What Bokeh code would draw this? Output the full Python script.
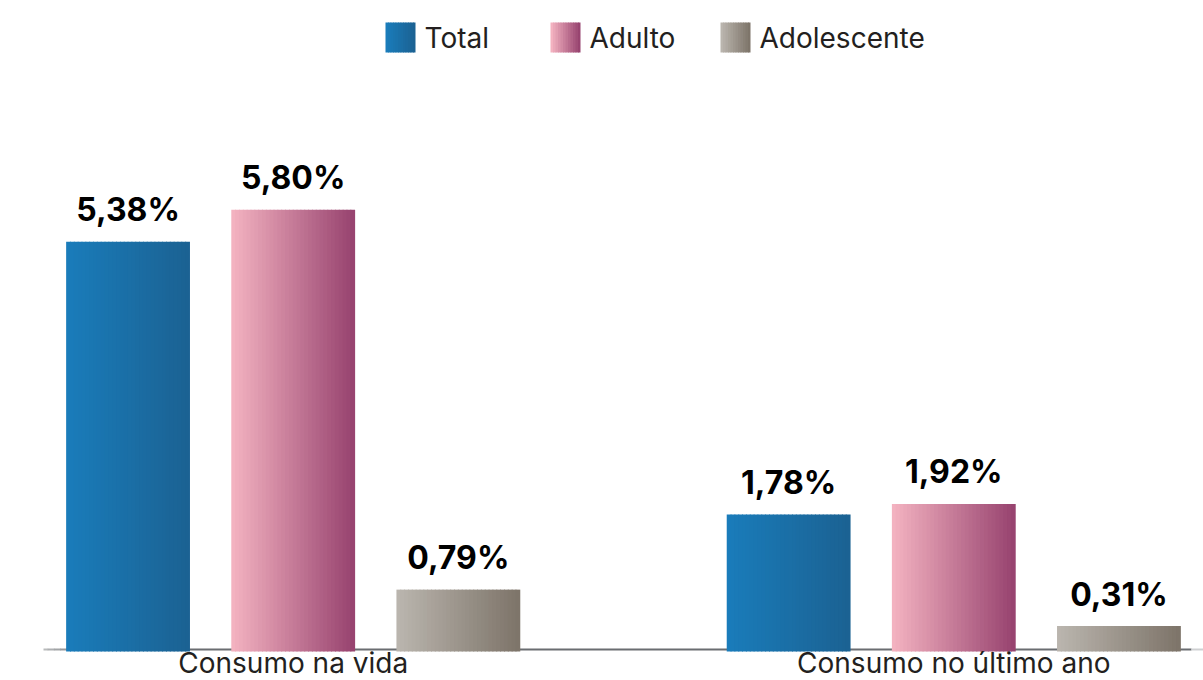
from bokeh.plotting import figure
from bokeh.models import FactorRange, Range1d, BoxAnnotation, Label, ColumnDataSource
from bokeh.core.properties import value
from bokeh.embed import file_html
from bokeh.resources import INLINE

# ---- data ----
categories = ["Consumo na vida", "Consumo no último ano"]
series = ["Total", "Adulto", "Adolescente"]
total = [5.38, 1.78]
adulto = [5.80, 1.92]
adolescente = [0.79, 0.31]

# ---- styles ----
gradients = {
    "Total": ("#1a7cba", "#1b6293"),
    "Adulto": ("#f3b2c0", "#984470"),
    "Adolescente": ("#bab5ae", "#7e756a"),
}
FONT = "Inter"
TEXT_COLOR = "#231f20"


def mix(c1, c2, t):
    a = [int(c1[i:i + 2], 16) for i in (1, 3, 5)]
    b = [int(c2[i:i + 2], 16) for i in (1, 3, 5)]
    return "#%02x%02x%02x" % tuple(round(a[k] + (b[k] - a[k]) * t) for k in range(3))


values = {"Total": total, "Adulto": adulto, "Adolescente": adolescente}
factors = [(c, s) for c in categories for s in series]

W, H = 1203, 680
MBL = 43
PX_PER_UNIT = 75.8
ZERO = 649  # canvas pixel row of the zero line
Y_BOTTOM = -(H - ZERO) / PX_PER_UNIT
Y_TOP = ZERO / PX_PER_UNIT

p = figure(
    width=W, height=H,
    x_range=FactorRange(*factors, group_padding=1.0, range_padding=0.012,
                        range_padding_units="absolute"),
    y_range=Range1d(Y_BOTTOM, Y_TOP),
    output_backend="svg", toolbar_location=None,
    x_axis_location=None, y_axis_location=None,
    min_border_left=MBL, min_border_right=0, min_border_top=0, min_border_bottom=0,
)
p.grid.visible = False
p.outline_line_color = None
p.background_fill_color = "white"
p.border_fill_color = "white"


def sx(a):
    return a - MBL


def sy(a):
    return H - a


def box(l, r, t, b, color):
    p.add_layout(BoxAnnotation(
        left=sx(l), right=sx(r), top=sy(t), bottom=sy(b),
        left_units="screen", right_units="screen",
        top_units="screen", bottom_units="screen",
        fill_color=color, fill_alpha=1.0, line_color=None, line_alpha=0,
        level="underlay"))


# baseline: fading in at the left, dark in the middle, light at the far right
NF = 10
for k in range(NF):
    l = 10 + k * (72 - 10) / NF
    box(l, l + (72 - 10) / NF + 0.5, 648, 650, mix("#ffffff", "#8a8d90", (k + 1) / NF))
box(72, 1191, 648, 650, "#6a6d71")
box(1191, 1203, 648, 650, "#cfd0d2")

# gradient bars built from thin slices
BAR_W = 0.744
N = 32
xs, tops, colors = [], [], []
for s in series:
    c1, c2 = gradients[s]
    for ci, c in enumerate(categories):
        v = values[s][ci]
        for k in range(N):
            off = -BAR_W / 2 + (k + 0.5) * BAR_W / N
            xs.append((c, s, off))
            tops.append(v)
            colors.append(mix(c1, c2, k / (N - 1)))
src = ColumnDataSource(dict(x=xs, top=tops, color=colors))
p.vbar(x="x", top="top", bottom=-2 / PX_PER_UNIT, width=BAR_W / N * 1.25, source=src,
       fill_color="color", line_color=None)

# value labels
lx, ly, lt = [], [], []
for s in series:
    for ci, c in enumerate(categories):
        v = values[s][ci]
        lx.append((c, s))
        ly.append(v)
        lt.append(f"{v:.2f}".replace(".", ",") + "%")
p.text(x=lx, y=ly, text=lt, text_align="center", text_baseline="middle",
       y_offset=-32, text_font=value(FONT), text_font_style="bold",
       text_font_size="32px", text_color="black")

# category labels
p.text(x=categories, y=[0, 0], text=categories, text_align="center",
       text_baseline="middle", y_offset=13, text_font=value(FONT),
       text_font_size="28px", text_color=TEXT_COLOR)

# legend
sw_left = [385, 550, 720]
SW = 30
sw_top, sw_bot = 22, 52
NS = 12
for j, s in enumerate(series):
    c1, c2 = gradients[s]
    for k in range(NS):
        l = sw_left[j] + k * SW / NS
        r = min(sw_left[j] + (k + 1.3) * SW / NS, sw_left[j] + SW)
        box(l, r, sw_top, sw_bot, mix(c1, c2, k / (NS - 1)))
    p.add_layout(Label(
        x=sx(sw_left[j] + SW + 9), y=sy(37),
        x_units="screen", y_units="screen",
        text=s, text_font=FONT, text_font_size="28px",
        text_color=TEXT_COLOR, text_baseline="middle", text_align="left"))

open("out.html", "w").write(file_html(p, INLINE))
